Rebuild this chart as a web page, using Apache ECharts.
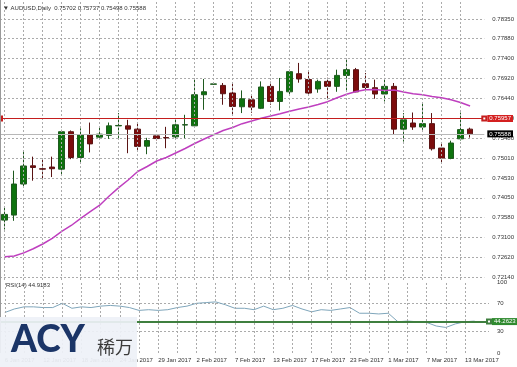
<!DOCTYPE html>
<html>
<head>
<meta charset="utf-8">
<script src="https://cdn.jsdelivr.net/npm/echarts@6/dist/echarts.min.js"></script>
<style>html,body{margin:0;padding:0;background:#fff;}#chart{width:517px;height:367px;}</style>
</head>
<body>
<div id="chart"></div>
<script>
const dates = ['6 Jan 2017','9 Jan 2017','10 Jan 2017','11 Jan 2017','12 Jan 2017','13 Jan 2017','16 Jan 2017','17 Jan 2017','18 Jan 2017','19 Jan 2017',
  '20 Jan 2017','23 Jan 2017','24 Jan 2017','25 Jan 2017','26 Jan 2017','27 Jan 2017','29 Jan 2017','30 Jan 2017','31 Jan 2017','1 Feb 2017',
  '2 Feb 2017','3 Feb 2017','5 Feb 2017','6 Feb 2017','7 Feb 2017','8 Feb 2017','9 Feb 2017','10 Feb 2017','13 Feb 2017','14 Feb 2017',
  '15 Feb 2017','16 Feb 2017','17 Feb 2017','20 Feb 2017','21 Feb 2017','22 Feb 2017','23 Feb 2017','24 Feb 2017','27 Feb 2017','28 Feb 2017',
  '1 Mar 2017','2 Mar 2017','3 Mar 2017','6 Mar 2017','7 Mar 2017','8 Mar 2017','9 Mar 2017','10 Mar 2017','13 Mar 2017','14 Mar 2017'];
const opens = [0.73514,0.73635,0.74382,0.74820,0.74750,0.74790,0.74740,0.75640,0.75020,0.75564,
  0.75509,0.75552,0.75780,0.75781,0.75702,0.75292,0.75540,0.75500,0.75516,0.75800,
  0.75781,0.76529,0.76780,0.76753,0.76570,0.76240,0.76408,0.76203,0.76729,0.76367,
  0.76599,0.77035,0.76896,0.76667,0.76850,0.76730,0.76994,0.77132,0.76794,0.76698,
  0.76546,0.76730,0.75702,0.75849,0.75753,0.75834,0.75247,0.74997,0.75468,0.75702];
const highs = [0.73835,0.74703,0.75161,0.75040,0.75002,0.75040,0.75685,0.75670,0.75721,0.75860,
  0.75750,0.75861,0.76088,0.75926,0.75846,0.75492,0.75570,0.75757,0.75938,0.76047,
  0.76908,0.76908,0.76800,0.76811,0.76811,0.76633,0.76529,0.76850,0.76843,0.76932,
  0.77132,0.77294,0.77084,0.76891,0.76938,0.77132,0.77402,0.77173,0.77052,0.76891,
  0.76932,0.76811,0.76088,0.76102,0.76329,0.76088,0.75343,0.75424,0.76100,0.75737];
const lows = [0.73289,0.73497,0.74330,0.74462,0.74479,0.74550,0.74600,0.74980,0.74890,0.75142,
  0.75460,0.75468,0.75485,0.75123,0.75202,0.75099,0.75430,0.75243,0.75444,0.75485,
  0.75750,0.76167,0.76770,0.76288,0.76022,0.76088,0.76095,0.76184,0.76288,0.76150,
  0.76505,0.76818,0.76515,0.76577,0.76433,0.76600,0.76620,0.76590,0.76650,0.76433,
  0.76367,0.75564,0.75402,0.75685,0.75685,0.75188,0.74869,0.74978,0.75427,0.75498];
const closes = [0.73651,0.74382,0.74816,0.74780,0.74740,0.74750,0.75640,0.75020,0.75564,0.75347,
  0.75581,0.75781,0.75790,0.75702,0.75287,0.75427,0.75475,0.75490,0.75806,0.75810,
  0.76529,0.76601,0.76790,0.76553,0.76247,0.76432,0.76232,0.76715,0.76367,0.76609,
  0.77084,0.76908,0.76570,0.76850,0.76730,0.76994,0.77132,0.76597,0.76704,0.76546,
  0.76730,0.75702,0.75926,0.75753,0.75834,0.75230,0.75006,0.75368,0.75690,0.75588];
const maValues = [0.72635,0.72651,0.72726,0.72825,0.72940,0.73077,0.73241,0.73385,0.73558,0.73717,
  0.73873,0.74094,0.74294,0.74479,0.74683,0.74803,0.74936,0.75020,0.75128,0.75236,
  0.75356,0.75465,0.75566,0.75669,0.75741,0.75833,0.75897,0.75962,0.76018,0.76071,
  0.76131,0.76186,0.76234,0.76294,0.76362,0.76455,0.76539,0.76607,0.76648,0.76655,
  0.76631,0.76643,0.76595,0.76554,0.76527,0.76487,0.76455,0.76407,0.76342,0.76258];
const rsiValues = [57,62,65,65,64,64,70,63,65,64,
  66,67,66,64,60,61,60,61,64,66,
  70,71,72,68,63,63,61,66,61,63,
  67,62,58,61,60,62,64,56,56,55,
  56,44,45,44,43,38,36,41,44,44.9183];
const priceTicks = [0.78350,0.77880,0.77400,0.76920,0.76440,0.75960,0.75480,0.75010,0.74530,0.74050,0.73580,0.73100,0.72620,0.72140];
const rsiTicks = [0,30,70,100];
const rsiGridTicks = [30,70];
const resistanceLevel = 0.75957;
const rsiLevel = 44.2623;

const FONT = 'Liberation Sans';
const categories = dates.concat(['']);
const candleData = dates.map((d, i) => [opens[i], closes[i], lows[i], highs[i]]);
const last = dates.length - 1;
const gridDash = { color: '#ababab', width: 1, type: [2, 2] };
// vertical grid every second bar
const vGridData = dates.filter((d, i) => i % 2 === 0).map(d => ({ xAxis: d }));

const chart = echarts.init(document.getElementById('chart'), null, { renderer: 'canvas' });
const option = {
  animation: false,
  backgroundColor: '#ffffff',
  grid: [
    { left: 0, top: 0, width: 489, height: 280 },
    { left: 0, top: 282, width: 489, height: 71 }
  ],
  xAxis: [
    { type: 'category', gridIndex: 0, data: categories, boundaryGap: true,
      axisLine: { show: false }, axisTick: { show: false }, axisLabel: { show: false }, splitLine: { show: false } },
    { type: 'category', gridIndex: 1, data: categories, boundaryGap: true,
      axisLine: { show: false }, axisTick: { show: false },
      axisLabel: { show: true, interval: (i) => i % 4 === 0, align: 'left', margin: 4,
        fontSize: 6, fontFamily: FONT, color: '#333' },
      splitLine: { show: false } }
  ],
  yAxis: [
    { type: 'value', gridIndex: 0, position: 'right', min: 0.72074, max: 0.78807, scale: true,
      axisLine: { show: false }, axisTick: { show: false, customValues: priceTicks },
      axisLabel: { customValues: priceTicks, formatter: (v) => v.toFixed(5), fontSize: 6, fontFamily: FONT, color: '#333', margin: 8 },
      splitLine: { show: true, lineStyle: gridDash } },
    { type: 'value', gridIndex: 1, position: 'right', min: 0, max: 100,
      axisLine: { show: false }, axisTick: { show: false, customValues: rsiGridTicks },
      axisLabel: { customValues: rsiTicks, formatter: (v) => String(v), fontSize: 6, fontFamily: FONT, color: '#333', margin: 8 },
      splitLine: { show: true, lineStyle: gridDash } }
  ],
  series: [
    { type: 'line', name: 'vgrid-main', xAxisIndex: 0, yAxisIndex: 0, data: [], z: 1, silent: true,
      markLine: { silent: true, symbol: ['none', 'none'], animation: false, data: vGridData,
        lineStyle: gridDash, label: { show: false } } },
    { type: 'line', name: 'vgrid-rsi', xAxisIndex: 1, yAxisIndex: 1, data: [], z: 1, silent: true,
      markLine: { silent: true, symbol: ['none', 'none'], animation: false, data: vGridData,
        lineStyle: gridDash, label: { show: false } } },
    { type: 'candlestick', name: 'AUDUSD', xAxisIndex: 0, yAxisIndex: 0, data: candleData, barWidth: 6,
      itemStyle: { color: '#0e730e', color0: '#7c0c0c', borderColor: '#1f5a1f', borderColor0: '#5a1414', borderWidth: 1 },
      markLine: { silent: true, symbol: ['none', 'none'], animation: false, precision: 5,
        data: [{ yAxis: closes[last] }],
        lineStyle: { color: '#b8b8b8', width: 1, type: 'solid' },
        label: { position: 'end', distance: 3, formatter: (p) => Number(p.value).toFixed(5), backgroundColor: '#000', color: '#fff',
          padding: [1, 2, 0, 2], fontSize: 6, fontFamily: FONT } } },
    { type: 'line', name: 'MA', xAxisIndex: 0, yAxisIndex: 0, data: maValues, symbol: 'none',
      lineStyle: { color: '#bf3fbf', width: 1.5 },
      markLine: { silent: true, symbol: ['emptyRect', 'emptyRect'], symbolSize: 4, animation: false, precision: 5,
        data: [{ yAxis: resistanceLevel }],
        lineStyle: { color: '#c41e1e', width: 1.2, type: 'solid' },
        label: { position: 'end', distance: 3, formatter: (p) => Number(p.value).toFixed(5), backgroundColor: '#d42020', color: '#fff',
          padding: [1, 2, 0, 2], fontSize: 6, fontFamily: FONT } } },
    { type: 'line', name: 'RSI', xAxisIndex: 1, yAxisIndex: 1, data: rsiValues, symbol: 'none',
      lineStyle: { color: '#7fa6bb', width: 1 },
      markLine: { silent: true, symbol: ['none', 'emptyRect'], symbolSize: 4, animation: false, precision: 4,
        data: [{ yAxis: rsiLevel }],
        lineStyle: { color: '#3f7f3f', width: 2, type: 'solid' },
        label: { position: 'end', distance: 3, formatter: (p) => Number(p.value).toFixed(4), backgroundColor: '#2f8a2f', color: '#fff',
          padding: [1, 2, 0, 2], fontSize: 6, fontFamily: FONT } } }
  ],
  graphic: [
    { type: 'line', z: 50, shape: { x1: 0.5, y1: 0, x2: 0.5, y2: 353 }, style: { stroke: '#9a9a9a', lineWidth: 1 } },
    { type: 'text', z: 60, left: 3, top: 5,
      style: { text: '\u25BC AUDUSD,Daily  ' + [opens[last], highs[last], lows[last], closes[last]].map(v => v.toFixed(5)).join(' '),
        fontSize: 6, fontFamily: FONT, fill: '#333' } },
    { type: 'text', z: 60, left: 6, top: 282,
      style: { text: 'RSI(14) ' + rsiValues[last].toFixed(4), fontSize: 6, fontFamily: FONT, fill: '#333' } },
    { type: 'rect', z: 90, shape: { x: 0, y: 317, width: 137, height: 50 },
      style: { fill: 'rgba(238,241,247,0.93)' } },
    { type: 'text', z: 95, left: 11, top: 322,
      style: { text: 'ACY', fontSize: 37, fontWeight: 900, fontFamily: 'Lato', fill: '#1b3567' } },
    { type: 'text', z: 95, left: 97, top: 338,
      style: { text: '稀万', fontSize: 18, fontFamily: 'Noto Sans CJK SC', fill: '#3a3a3a' } }
  ]
};
chart.setOption(option);
</script>
</body>
</html>
